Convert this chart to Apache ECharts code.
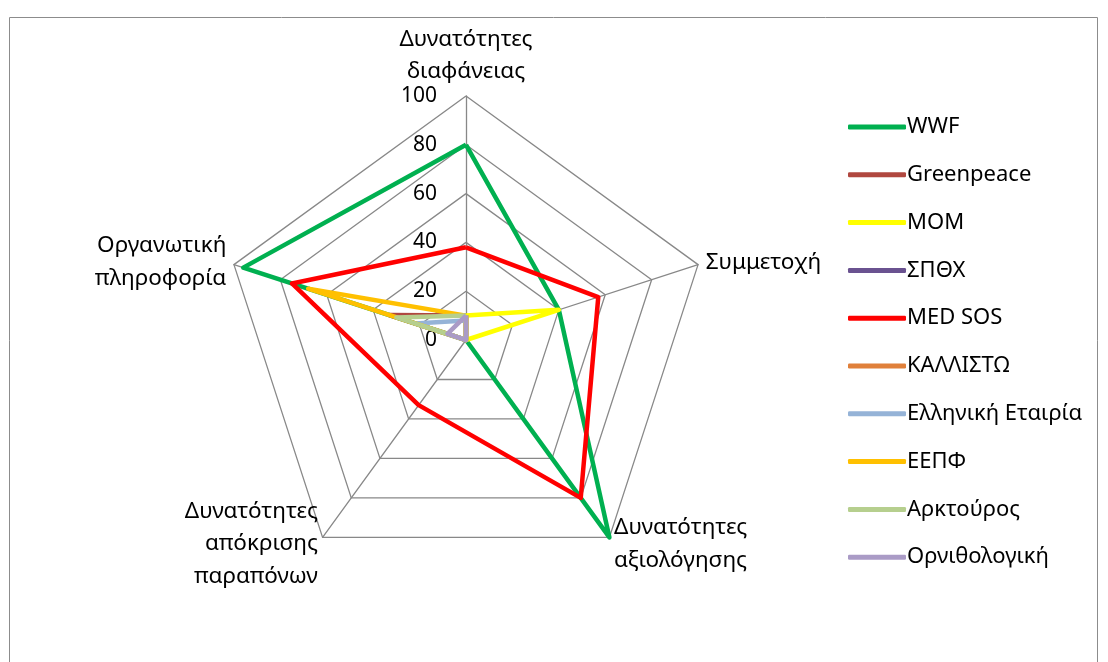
<!DOCTYPE html>
<html>
<head>
<meta charset="utf-8">
<script src="https://cdn.jsdelivr.net/npm/echarts@6/dist/echarts.min.js"></script>
<style>
  html, body { margin: 0; padding: 0; background: #fff; }
  #chart { width: 1108px; height: 662px; }
</style>
</head>
<body>
<div id="chart"></div>
<script>
// axes, listed anticlockwise from the top (echarts radar order)
var indicators = ['Δυνατότητες\nδιαφάνειας', 'Οργανωτική\nπληροφορία', 'Δυνατότητες\nαπόκρισης\nπαραπόνων', 'Δυνατότητες\nαξιολόγησης', 'Συμμετοχή'];
var tickLabels = [0, 20, 40, 60, 80, 100];

var names = ['WWF', 'Greenpeace', 'MOM', 'ΣΠΘΧ', 'MED SOS', 'ΚΑΛΛΙΣΤΩ', 'Ελληνική Εταιρία', 'ΕΕΠΦ', 'Αρκτούρος', 'Ορνιθολογική'];
var colors = ['#00B050', '#B0473F', '#FFFF00', '#6A5290', '#FF0000', '#E0803A', '#95B3D7', '#FFC000', '#B6CF8E', '#AA9BC6'];

// values in the same order as indicators
var wwf = [80, 96, 0, 100, 40];
var greenpeace = [10, 33, 0, 0, 0];
var mom = [10, 0, 0, 0, 40];
var spthx = [10, 0, 0, 0, 0];
var medsos = [38, 75, 33, 80, 57];
var kallisto = [10, 0, 0, 0, 0];
var elliniki = [8, 22, 0, 0, 0];
var eepf = [10, 68, 0, 0, 0];
var arktouros = [10, 30, 0, 0, 0];
var ornithologiki = [10, 8, 0, 0, 0];

var values = [wwf, greenpeace, mom, spthx, medsos, kallisto, elliniki, eepf, arktouros, ornithologiki];

var font = 'Noto Sans';
var chart = echarts.init(document.getElementById('chart'));

var series = names.map(function (n, i) {
    return {
        name: n,
        type: 'radar',
        symbol: 'none',
        lineStyle: { width: 4.5, color: colors[i] },
        itemStyle: { color: colors[i] },
        data: [{ name: n, value: values[i] }]
    };
});

chart.setOption({
    animation: false,
    textStyle: { fontFamily: font },
    graphic: [{
        type: 'rect',
        shape: { x: 9.5, y: 17.5, width: 1088, height: 700 },
        style: { fill: 'none', stroke: '#8c8c8c', lineWidth: 1 }
    }],
    legend: {
        orient: 'vertical',
        left: 843,
        top: 111,
        icon: 'roundRect',
        itemWidth: 58,
        itemHeight: 5,
        itemGap: 25.8,
        textStyle: { fontSize: 22, color: '#000', fontFamily: font, padding: [0, 0, 0, -4] },
        data: names
    },
    radar: {
        center: [466, 340],
        radius: 244,
        shape: 'polygon',
        splitNumber: 5,
        nameGap: 8,
        axisName: { color: '#000', fontSize: 22.5, fontFamily: font, lineHeight: 32.5 },
        axisLine: { lineStyle: { color: '#888', width: 1.3 } },
        splitLine: { lineStyle: { color: '#888', width: 1.3 } },
        splitArea: { show: false },
        indicator: indicators.map(function (t) { return { name: t, min: 0, max: 100 }; })
    },
    // value labels along the top axis
    grid: { left: 466, top: 96, width: 1, height: 244 },
    xAxis: { type: 'value', show: false },
    yAxis: {
        type: 'value', min: 0, max: 100, interval: 20,
        axisLine: { show: false }, axisTick: { show: false }, splitLine: { show: false },
        axisLabel: {
            margin: 29, fontSize: 21, color: '#000', fontFamily: font,
            formatter: function (v) { return tickLabels.indexOf(v) >= 0 ? String(v) : ''; }
        }
    },
    series: series
});
</script>
</body>
</html>
